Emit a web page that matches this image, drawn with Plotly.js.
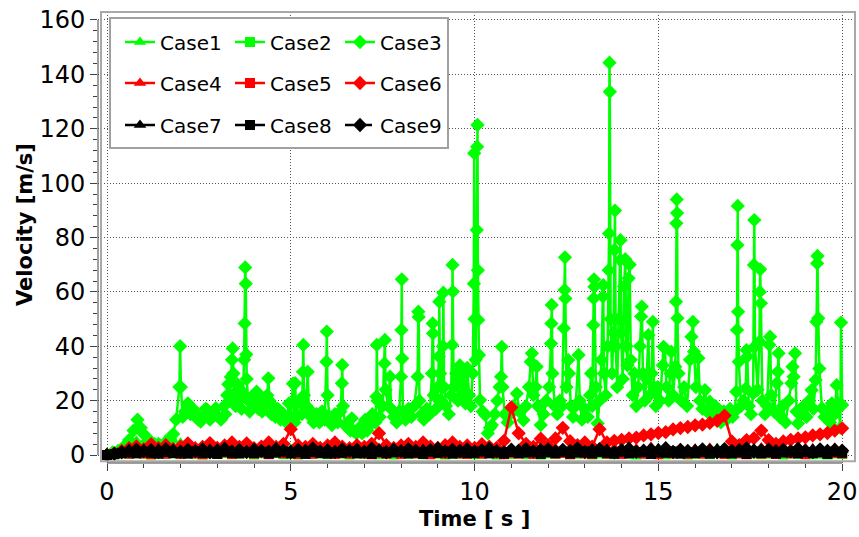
<!DOCTYPE html>
<html>
<head>
<meta charset="utf-8">
<script src="https://cdn.plot.ly/plotly-3.0.1.min.js"></script>
<style>
html,body{margin:0;padding:0;background:#fff;}
#chart{width:859px;height:537px;}
</style>
</head>
<body>
<div id="chart"></div>
<script>
// ---- shared time grid (s) for the near-zero cases ----
const time = [
  0,0.2,0.4,0.6,0.8,1.0,1.2,1.4,1.6,1.8,
  2.0,2.2,2.4,2.6,2.8,3.0,3.2,3.4,3.6,3.8,
  4.0,4.2,4.4,4.6,4.8,5.0,5.2,5.4,5.6,5.8,
  6.0,6.2,6.4,6.6,6.8,7.0,7.2,7.4,7.6,7.8,
  8.0,8.2,8.4,8.6,8.8,9.0,9.2,9.4,9.6,9.8,
  10.0,10.2,10.4,10.6,10.8,11.0,11.2,11.4,11.6,11.8,
  12.0,12.2,12.4,12.6,12.8,13.0,13.2,13.4,13.6,13.8,
  14.0,14.2,14.4,14.6,14.8,15.0,15.2,15.4,15.6,15.8,
  16.0,16.2,16.4,16.6,16.8,17.0,17.2,17.4,17.6,17.8,
  18.0,18.2,18.4,18.6,18.8,19.0,19.2,19.4,19.6,19.8,
  20.0];

const case1 = [
  0,1.2,2.5,4,5.2,4.6,5.5,4.8,5.8,5.2,
  4.5,3.5,2.8,3.6,2.4,3.2,2.6,1.8,3,2.2,
  2.6,1.7,2.3,3,1.6,2.2,1.2,2.6,1.6,2.1,
  1.3,1.7,2.5,1.2,2.1,1.5,1.1,2.2,1.6,2.4,
  1.2,1.6,2.1,1.1,2.6,1.5,1.2,2.1,1.7,1.1,
  2.2,1.4,2.5,1.2,1.6,2.1,1.1,2.3,1.5,1.2,
  2.4,1.6,1.1,2.2,1.5,1.2,2.1,2.6,1.4,1.1,
  2.2,1.6,1.2,2.1,1.5,2.5,1.1,1.6,2.2,1.2,
  1.5,2.1,1.2,2.5,1.6,1.1,2.2,1.5,1.2,2.1,
  1.6,2.4,1.1,1.5,2.2,1.2,1.6,2.1,1.1,1.5,
  2];
const case2 = [
  0,0.3,0.6,0.4,0.8,0.5,0.2,0.7,0.4,0.6,
  0.3,0.8,0.5,0.2,0.6,0.4,0.7,0.3,0.5,0.8,
  0.2,0.6,0.4,0.7,0.3,0.5,0.2,0.8,0.4,0.6,
  0.3,0.7,0.5,0.2,0.6,0.4,0.8,0.3,0.5,0.2,
  0.7,0.4,0.6,0.3,0.8,0.5,0.2,0.6,0.4,0.7,
  0.3,0.5,0.8,0.2,0.6,0.4,0.7,0.3,0.5,0.2,
  0.6,0.4,0.8,0.3,0.5,0.7,0.2,0.6,0.4,0.3,
  0.7,0.5,0.2,0.6,0.4,0.8,0.3,0.5,0.7,0.2,
  0.4,0.6,0.3,0.8,0.5,0.2,0.7,0.4,0.6,0.3,
  0.5,0.8,0.2,0.6,0.4,0.7,0.3,0.5,0.2,0.6,
  0.4];
const case4 = [
  0,0.8,1.5,2.2,1.4,2.6,1.8,2.4,1.2,2.8,
  1.6,2.3,1.3,2.7,1.9,1.2,2.5,1.6,2.2,1.4,
  2.6,1.5,2.1,1.2,2.8,1.7,2.3,1.3,2.5,1.9,
  1.2,2.4,1.6,2.7,1.3,2.2,1.8,2.6,1.4,2.1,
  2.5,1.3,2.2,1.7,2.8,1.4,2.3,1.2,2.6,1.8,
  1.5,2.4,1.2,2.7,1.9,2.2,1.4,2.6,1.6,2.3,
  1.3,2.5,1.8,2.2,1.4,2.8,1.6,2.1,1.3,2.6,
  1.9,1.4,2.4,1.7,2.9,1.3,2.2,1.6,2.5,1.4,
  2.3,1.5,2.7,1.8,1.3,2.4,1.6,2.2,1.9,2.8,
  1.4,2.6,1.7,2.3,1.5,2.5,1.8,2.2,1.4,2.7,
  1.9];
const case5 = [
  0,0.4,0.9,0.5,1.1,0.6,0.3,1.0,0.5,0.8,
  0.4,1.1,0.6,0.3,0.9,0.5,1.0,0.4,0.7,1.2,
  0.5,0.9,0.3,1.1,0.6,0.8,0.4,1.0,0.5,0.7,
  1.1,0.4,0.8,0.5,1.2,0.6,0.3,0.9,0.5,1.0,
  0.4,0.8,0.6,1.1,0.3,0.9,0.5,1.2,0.6,0.4,
  0.9,0.5,1.1,0.6,0.3,0.8,0.5,1.0,0.4,0.7,
  1.2,0.5,0.8,0.3,1.0,0.6,0.4,1.1,0.5,0.9,
  0.4,0.7,1.1,0.5,0.9,0.3,1.2,0.6,0.8,0.4,
  1.0,0.5,0.7,1.1,0.4,0.9,0.6,0.3,1.0,0.5,
  0.8,0.4,1.1,0.6,0.9,0.3,0.7,1.0,0.5,0.8,
  0.6];
const case6 = [
  0,0.5,1.5,2.5,3.2,2.1,4.0,2.6,3.6,2.2,
  3.1,4.3,2.5,3.0,4.4,2.6,3.5,4.6,3.0,4.3,
  2.5,3.1,4.6,3.0,4.1,9.5,3.5,3.0,4.1,2.6,
  3.5,4.6,3.1,2.5,3.6,3.0,4.1,8.0,3.6,2.6,
  3.5,4.1,3.0,4.6,3.1,2.6,3.6,4.6,3.0,3.5,
  2.6,4.0,3.1,2.6,5.2,17.5,8.0,4.1,3.0,6.0,
  3.5,6.1,10.0,5.1,3.6,4.6,3.1,9.5,4.6,5.2,
  5.6,6.1,6.4,7.2,7.6,8.1,8.4,9.4,9.9,10.3,
  10.9,11.2,11.8,12.6,14.5,5.0,3.6,5.5,6.2,9.0,
  5.5,4.1,5.0,5.6,6.1,6.5,7.2,7.6,8.1,9.0,
  9.8];
const case7 = [
  0,0.6,1.2,1.8,1.3,2.1,1.5,2.4,1.1,1.9,
  1.4,2.2,1.6,1.0,2.3,1.5,1.9,1.2,2.5,1.6,
  1.1,2.0,1.5,2.4,1.3,1.8,1.0,2.2,1.6,1.3,
  2.3,1.4,1.9,1.1,2.5,1.6,2.0,1.3,1.8,2.4,
  1.2,1.9,1.5,2.2,1.0,2.4,1.6,1.3,2.1,1.5,
  1.9,1.2,2.4,1.6,1.1,2.2,1.4,2.0,1.3,2.5,
  1.5,1.1,2.1,1.7,2.4,1.3,1.9,1.0,2.2,1.6,
  1.3,2.3,1.5,1.9,1.2,2.5,1.6,1.1,2.0,1.4,
  2.2,1.5,1.0,2.4,1.7,1.3,2.1,1.5,2.5,1.2,
  1.8,1.4,2.2,1.1,1.9,1.6,2.4,1.3,2.0,1.5,
  1.8];
const case8 = [
  0,0.3,0.7,1.0,0.6,1.2,0.8,0.5,1.1,0.7,
  0.9,0.5,1.3,0.7,1.0,0.4,1.2,0.8,0.6,1.1,
  0.7,1.2,0.5,0.9,1.3,0.6,1.0,0.4,1.1,0.8,
  0.5,1.0,0.8,1.3,0.6,0.9,0.4,1.2,0.7,1.0,
  1.1,0.6,0.9,0.4,1.2,0.8,1.3,0.5,1.0,0.7,
  0.8,1.3,0.6,1.0,0.5,1.1,0.7,0.9,1.2,0.4,
  1.0,0.7,1.2,0.5,0.9,1.3,0.6,1.1,0.8,0.5,
  1.2,0.6,0.9,1.1,0.4,1.0,0.8,1.3,0.5,0.9,
  0.7,1.1,0.5,1.2,0.8,0.6,1.0,0.4,1.3,0.7,
  1.0,0.5,0.9,1.2,0.6,1.1,0.7,1.0,0.4,1.2,
  0.8];
const case9 = [
  0,0.5,1.0,1.5,2.0,1.4,1.8,1.1,2.2,1.6,
  1.2,1.9,1.4,2.1,1.0,1.7,2.3,1.3,1.8,1.1,
  2.0,1.5,1.2,2.2,1.6,1.1,1.9,1.4,2.4,1.3,
  1.7,1.1,2.1,1.5,1.9,1.2,2.3,1.6,1.0,2.0,
  1.4,2.2,1.6,1.1,1.8,2.4,1.3,1.9,1.5,2.1,
  1.2,1.7,2.3,1.4,1.0,2.0,1.6,2.2,1.3,1.8,
  2.1,1.3,1.9,1.5,2.4,1.1,1.7,2.2,1.4,1.0,
  1.8,2.3,1.2,1.6,2.0,1.4,2.5,1.1,1.9,1.5,
  1.3,2.1,1.6,1.0,2.2,1.5,1.8,2.4,1.2,1.7,
  2.0,1.4,1.9,1.3,2.3,1.6,1.1,2.1,1.5,1.9,
  1.6];

// ---- Case3 has its own (irregular) time samples ----
const time3 = [
  0,0.15,0.3,0.45,0.6,0.72,0.83,0.92,1.0,1.15,
  1.3,1.45,1.6,1.72,1.8,1.88,1.97,1.99,2.01,2.06,
  2.12,2.2,2.27,2.34,2.41,2.48,2.55,2.63,2.68,2.73,
  2.8,2.87,2.96,3.03,3.1,3.17,3.22,3.27,3.3,3.33,
  3.37,3.4,3.42,3.44,3.46,3.5,3.55,3.58,3.62,3.66,
  3.7,3.73,3.745,3.76,3.775,3.79,3.8,3.84,3.88,3.93,
  3.98,4.03,4.07,4.12,4.17,4.22,4.3,4.36,4.39,4.42,
  4.47,4.52,4.58,4.65,4.72,4.8,4.88,4.95,5.0,5.06,
  5.1,5.12,5.15,5.22,5.3,5.33,5.34,5.36,5.42,5.46,
  5.49,5.55,5.62,5.7,5.78,5.85,5.92,5.97,5.98,6.0,
  6.05,6.12,6.2,6.28,6.35,6.39,6.4,6.42,6.48,6.55,
  6.62,6.66,6.7,6.78,6.86,6.94,7.02,7.08,7.15,7.22,
  7.3,7.33,7.34,7.36,7.42,7.5,7.55,7.56,7.58,7.65,
  7.7,7.73,7.8,7.88,7.95,8.0,8.01,8.02,8.03,8.05,
  8.12,8.2,8.28,8.36,8.45,8.47,8.48,8.5,8.56,8.62,
  8.7,8.78,8.84,8.86,8.87,8.89,8.95,9.0,9.03,9.04,
  9.06,9.1,9.14,9.15,9.17,9.22,9.3,9.36,9.39,9.4,
  9.41,9.43,9.5,9.55,9.6,9.65,9.7,9.75,9.8,9.85,
  9.9,9.95,9.98,9.99,10.0,10.03,10.06,10.07,10.08,10.09,
  10.1,10.12,10.15,10.22,10.29,10.36,10.42,10.47,10.55,10.62,
  10.68,10.72,10.74,10.76,10.82,10.9,10.97,11.05,11.15,11.22,
  11.33,11.4,11.48,11.53,11.56,11.6,11.66,11.69,11.72,11.8,
  11.88,11.95,12.03,12.08,12.09,12.1,12.12,12.18,12.25,12.32,
  12.38,12.43,12.45,12.46,12.47,12.5,12.55,12.57,12.62,12.68,
  12.75,12.83,12.86,12.92,13.0,13.08,13.14,13.17,13.2,13.23,
  13.24,13.25,13.26,13.3,13.35,13.4,13.45,13.49,13.5,13.52,
  13.57,13.62,13.65,13.66,13.67,13.68,13.7,13.74,13.78,13.81,
  13.82,13.84,13.88,13.92,13.96,13.97,13.99,14.03,14.07,14.1,
  14.13,14.16,14.19,14.22,14.25,14.3,14.35,14.4,14.45,14.5,
  14.53,14.55,14.58,14.63,14.68,14.73,14.76,14.82,14.85,14.88,
  14.93,14.98,15.05,15.12,15.14,15.18,15.22,15.28,15.33,15.35,
  15.4,15.46,15.48,15.49,15.5,15.51,15.52,15.55,15.62,15.7,
  15.78,15.86,15.9,15.94,15.97,16.02,16.09,16.13,16.2,16.27,
  16.33,16.4,16.47,16.55,16.62,16.7,16.78,16.86,16.95,17.02,
  17.08,17.12,17.14,17.15,17.16,17.17,17.19,17.25,17.32,17.38,
  17.4,17.42,17.46,17.52,17.58,17.6,17.61,17.63,17.7,17.75,
  17.76,17.77,17.79,17.83,17.9,17.96,18.02,18.04,18.07,18.15,
  18.22,18.25,18.27,18.3,18.38,18.46,18.55,18.62,18.65,18.68,
  18.72,18.76,18.8,18.88,18.95,19.03,19.1,19.17,19.22,19.28,
  19.3,19.32,19.33,19.35,19.38,19.45,19.52,19.6,19.67,19.72,
  19.8,19.85,19.9,19.95,19.97,20.0];
const case3 = [
  0,1,1.5,3,5.5,9,13,10,7.7,5.5,
  4,3.5,4.5,6,7.7,13,25,40,25,14,
  16,19,15,17,15.4,13,12.3,14,17,16.6,
  13,15,17.2,14,13,17.8,15,22,26,20,
  28.7,35,39.2,30,22.6,18,26,20,24,17,
  22.6,35,48.4,69,63,37,28,20,16,19,
  22,18,23.3,17,21,16,18,22,28.2,20,
  15,18,14,17,13,15,12,19,14,26.2,
  12,26.4,14,20,15,30.6,40.5,22,18,30.6,
  17,14,12,15,12,16,13,34.3,45.4,22,
  14,11,15,12,16,26.4,33.1,18,11,10,
  9,13.5,9,8,10,8,12.9,9,11,15,
  12,21.5,40.5,20,14,18,33.7,42.3,24,18,
  28.8,17,14,12,16,28.8,46,64.6,35.5,16,
  13,17,14,18,28.8,52.7,50.8,20,15,13,
  17,15,30,48.4,44.7,22,17,25,36.2,56.4,
  30,20,40,59.7,25,18,15,22,40.5,69.9,
  60.1,25,30,20,33,22,30,19,32,22,
  18,30,63,111,50,35,82.8,113.4,121.4,68,
  49.7,36.8,20.2,16,14.7,8,10,11,15,20,
  25,28.8,39.8,25,15,12,15,18,22.6,16,
  12.8,18,25,34.3,37.4,22,25,32.5,18,11,
  15,20,25,41,48.4,55.2,30,18,15,20,
  18,46.6,60.7,72.7,57.6,25,34.9,30,18,14,
  18,36.8,20,13,17,14,22,30,18,47.8,
  57.6,64.6,61.9,25,11.6,20,35,58.3,62.5,30,
  22,40,68,81.5,144.3,133.6,50,30,45,75.4,
  89.9,40,25,50,71.7,79,45,28,62,72,
  40,33,65,70,35,22,30,18,25,40,
  50.9,54.6,30,20,28,44.1,22,30,49,25,
  18,25,20,33,39.8,39.2,25,20,30,38,
  22,32.5,56.4,85.2,94,89,50.3,30,20,25,
  18,35,43.5,49,38,25,35.6,20,17,23.9,
  16,19.6,15,18,14,12,16,13,17,14,
  16,23.3,46,77.2,91.6,52.7,34.3,18,20,24.5,
  38.6,36.2,18,15,22.7,69.9,86.4,40,24,41.7,
  60,68.3,55.8,20,15,18,40.5,43.5,22,16,
  26.4,30.6,37.4,14,18,12,20,26.4,32.5,28.8,
  37.4,16,11.6,15,18,14,20,23.9,17,27.6,
  49,70.5,73.2,50.3,31.8,17.2,14,16,12,19,
  15,25.7,18.4,10,48.7,18.4];

const caseNames = ['Case1','Case2','Case3','Case4','Case5','Case6','Case7','Case8','Case9'];
const xTickVals = [0,5,10,15,20];
const yTickVals = [0,20,40,60,80,100,120,140,160];

const GREEN = '#00ff00', RED = '#ff0000', BLACK = '#000000';
const FONT_FAMILY = 'Tahoma, "DejaVu Sans", sans-serif';
const LEG_FONT = {family: FONT_FAMILY, size: 20, color: '#000'};

function tr(name, x, y, color, symbol, size, legend, dash) {
  return {
    type: 'scatter', mode: 'lines+markers', name: name, x: x, y: y,
    line: {color: color, width: 2.5, dash: dash || 'solid'},
    marker: {color: color, symbol: symbol, size: size, line: {width: 0}},
    legend: legend, hoverinfo: 'skip'
  };
}

const data = [
  tr(caseNames[0], time, case1, GREEN, 'triangle-up', 11, 'legend'),
  tr(caseNames[1], time, case2, GREEN, 'square', 10, 'legend'),
  tr(caseNames[2], time3, case3, GREEN, 'diamond', 11, 'legend'),
  tr(caseNames[3], time, case4, RED, 'triangle-up', 11, 'legend2'),
  tr(caseNames[4], time, case5, RED, 'square', 10, 'legend2'),
  tr(caseNames[5], time, case6, RED, 'diamond', 11, 'legend2'),
  tr(caseNames[6], time, case7, BLACK, 'triangle-up', 11, 'legend3'),
  tr(caseNames[7], time, case8, BLACK, 'square', 10, 'legend3'),
  tr(caseNames[8], time, case9, BLACK, 'diamond', 11, 'legend3', 'dash')
];

const W = 859, H = 537;
const M = {l: 98, r: 4, t: 12, b: 74};
const plotW = W - M.l - M.r, plotH = H - M.t - M.b;
function px2paperX(p) { return (p - M.l) / plotW; }
function px2paperY(p) { return (H - M.b - p) / plotH; }

function legendRow(py) {
  return {
    orientation: 'h', x: px2paperX(120), xanchor: 'left', y: px2paperY(py), yanchor: 'middle',
    bgcolor: 'rgba(0,0,0,0)', borderwidth: 0, font: LEG_FONT,
    entrywidth: 65, entrywidthmode: 'pixels', itemclick: false, itemdoubleclick: false
  };
}

const tickFont = {family: FONT_FAMILY, size: 24, color: '#000'};
const gridDash = '1px,2px';

const layout = {
  width: W, height: H,
  margin: M,
  paper_bgcolor: '#ffffff', plot_bgcolor: '#ffffff',
  showlegend: true,
  xaxis: {
    range: [-0.245, 20.35], tickvals: xTickVals, ticktext: xTickVals.map(String),
    ticks: 'outside', ticklen: 7, tickwidth: 1, tickcolor: '#404040',
    showline: false, zeroline: false, showgrid: true, gridcolor: '#555555', griddash: gridDash, gridwidth: 1,
    tickfont: tickFont,
    minor: {dtick: 1, tick0: 0, ticks: 'outside', ticklen: 4, tickcolor: '#404040', showgrid: false}
  },
  yaxis: {
    range: [-2.94, 162.94], tickvals: yTickVals, ticktext: yTickVals.map(String),
    ticks: 'outside', ticklen: 7, tickwidth: 1, tickcolor: '#404040',
    showline: false, zeroline: false, showgrid: true, gridcolor: '#555555', griddash: gridDash, gridwidth: 1,
    tickfont: tickFont,
    minor: {dtick: 4, tick0: 0, ticks: 'outside', ticklen: 4, tickcolor: '#404040', showgrid: false}
  },
  legend: legendRow(42),
  legend2: legendRow(83),
  legend3: legendRow(125),
  shapes: [
    {type: 'rect', xref: 'paper', yref: 'paper', x0: px2paperX(101), x1: 1, y0: 0.004, y1: 1,
     line: {color: '#a8a8a8', width: 2}, fillcolor: 'rgba(0,0,0,0)', layer: 'above'},
    {type: 'line', xref: 'paper', yref: 'y', x0: 0, x1: 0, y0: 0, y1: 160, line: {color: '#404040', width: 1}},
    {type: 'line', xref: 'x', yref: 'paper', x0: 0, x1: 20, y0: 0, y1: 0, line: {color: '#404040', width: 1}},
    {type: 'rect', xref: 'paper', yref: 'paper', x0: px2paperX(110), x1: px2paperX(448), y0: px2paperY(148), y1: px2paperY(18),
     line: {color: '#a0a0a0', width: 2}, fillcolor: '#ffffff', layer: 'above'}
  ],
  annotations: [
    {text: '<b>Time [ s ]</b>', xref: 'paper', yref: 'paper', x: px2paperX(474), y: px2paperY(519),
     xanchor: 'center', yanchor: 'middle', showarrow: false,
     font: {family: FONT_FAMILY, size: 21, color: '#000'}},
    {text: '<b>Velocity [m/s]</b>', xref: 'paper', yref: 'paper', x: px2paperX(25), y: px2paperY(225),
     xanchor: 'center', yanchor: 'middle', showarrow: false, textangle: -90,
     font: {family: FONT_FAMILY, size: 21, color: '#000'}}
  ]
};

Plotly.newPlot('chart', data, layout, {displayModeBar: false, staticPlot: true});
</script>
</body>
</html>
